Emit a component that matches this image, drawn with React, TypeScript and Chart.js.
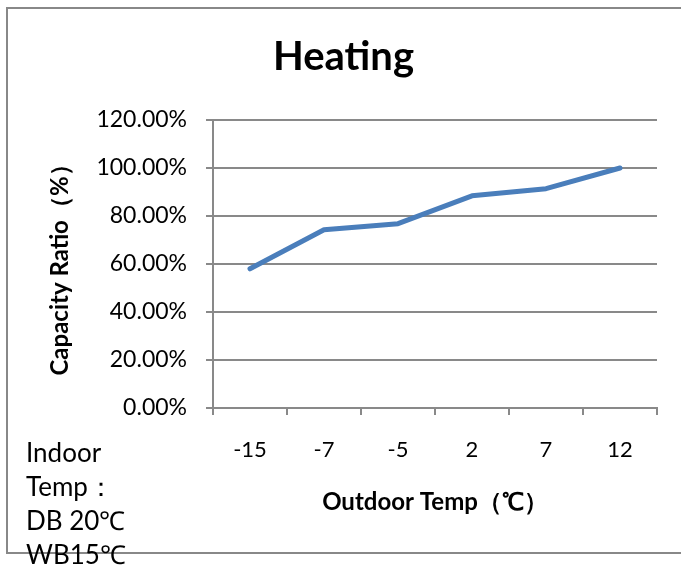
import React, { useEffect, useRef } from "react";
import { Chart, registerables } from "chart.js";

Chart.register(...registerables);

const chartTitle = "Heating";
const outdoorTemps = ["-15", "-7", "-5", "2", "7", "12"];
const capacityRatio = [0.58, 0.743, 0.768, 0.884, 0.914, 1.0];
const yAxisTitle = "Capacity Ratio（%）";
const xAxisTitle = "Outdoor Temp（℃）";
const noteLines = ["Indoor", "Temp：", "DB 20℃", "WB15℃"];

const GRID = "#898989";
const FONT = "Lato, 'Open Sans', sans-serif";

export default function App() {
  const ref = useRef<HTMLCanvasElement | null>(null);

  useEffect(() => {
    if (!ref.current) return;
    const chart = new Chart(ref.current, {
      type: "line",
      data: {
        labels: outdoorTemps,
        datasets: [
          {
            data: capacityRatio,
            borderColor: "#4a7ebb",
            backgroundColor: "#4a7ebb",
            borderWidth: 5,
            pointRadius: 0,
            pointHoverRadius: 0,
            tension: 0,
            borderCapStyle: "round",
            borderJoinStyle: "round",
            fill: false,
          },
        ],
      },
      options: {
        responsive: false,
        animation: false,
        events: [],
        layout: { padding: { left: 30, top: 0, right: 24, bottom: 55 } },
        plugins: {
          legend: { display: false },
          tooltip: { enabled: false },
          title: {
            display: true,
            text: chartTitle,
            color: "#000",
            font: { family: FONT, size: 40, weight: "bold", lineHeight: 1.2 },
            padding: { top: 33, bottom: 39 },
          },
        },
        scales: {
          x: {
            offset: true,
            afterFit: (s: any) => {
              s.height = 120;
            },
            grid: {
              offset: true,
              drawOnChartArea: false,
              drawTicks: true,
              tickLength: 7,
              color: GRID,
              lineWidth: 2,
            },
            border: { color: GRID, width: 2 },
            ticks: {
              color: "#000",
              padding: 22,
              maxRotation: 0,
              font: { family: FONT, size: 22 },
            },
            title: {
              display: true,
              text: xAxisTitle,
              color: "#000",
              font: { family: FONT, size: 24, weight: "bold", lineHeight: 1.2 },
              padding: { top: 0, bottom: 11 },
            },
          },
          y: {
            min: 0,
            max: 1.2,
            afterFit: (s: any) => {
              s.width = 183;
            },
            grid: {
              drawTicks: true,
              tickLength: 7,
              color: GRID,
              lineWidth: 2,
            },
            border: { color: GRID, width: 2 },
            ticks: {
              stepSize: 0.2,
              color: "#000",
              padding: 19,
              font: { family: FONT, size: 23 },
              callback: (v: any) => (Number(v) * 100).toFixed(2) + "%",
            },
            title: {
              display: true,
              text: yAxisTitle,
              color: "#000",
              font: { family: FONT, size: 24, weight: "bold", lineHeight: 1.2 },
              padding: { top: 15.6, bottom: 0 },
            },
          },
        },
      },
    });
    return () => chart.destroy();
  }, []);

  return (
    <div style={{ position: "absolute", left: 0, top: 0, width: 681, height: 583, overflow: "hidden", background: "#fff" }}>
      <canvas
        ref={ref}
        width={681}
        height={583}
        style={{ position: "absolute", left: 0, top: 0, width: 681, height: 583 }}
      />
      <div
        style={{
          position: "absolute",
          left: 6,
          top: 7,
          width: 700,
          height: 543,
          borderTop: "2px solid #888",
          borderLeft: "2px solid #888",
          borderBottom: "2px solid #888",
          pointerEvents: "none",
        }}
      />
      <div
        style={{
          position: "absolute",
          left: 26,
          top: 435,
          fontFamily: FONT,
          fontSize: 26,
          lineHeight: "34px",
          color: "#000",
          whiteSpace: "nowrap",
        }}
      >
        {noteLines.map((t) => (
          <div key={t}>{t}</div>
        ))}
      </div>
    </div>
  );
}
